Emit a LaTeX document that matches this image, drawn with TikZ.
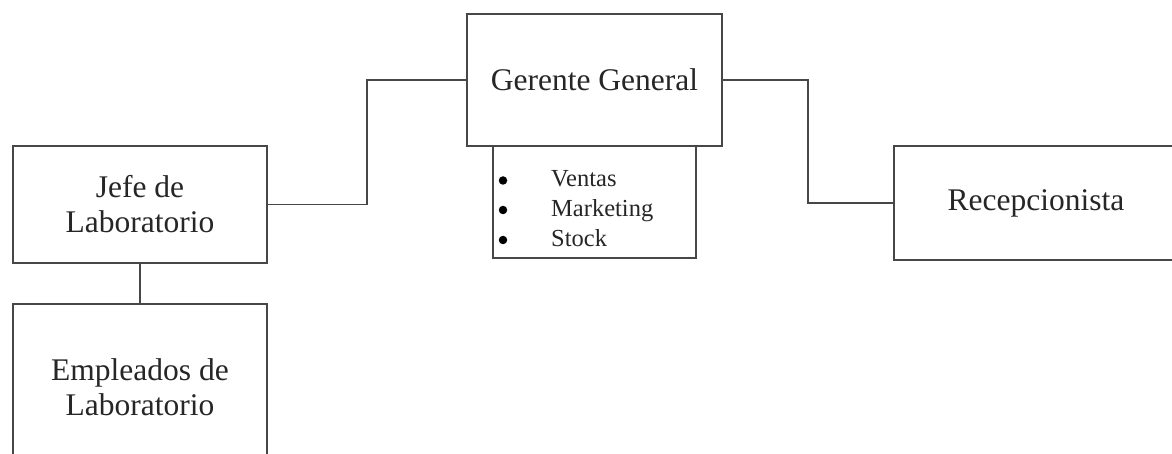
\documentclass[tikz,border=0pt]{standalone}
\usepackage{fontspec}
\setmainfont{Liberation Serif}
\usetikzlibrary{calc}
\begin{document}
\begin{tikzpicture}[x=1pt,y=-1pt,
  box/.style={draw=black!72,line width=1.5pt,rectangle,inner sep=0pt,align=center,
    font=\fontsize{31.5}{35}\selectfont,text=black!85},
  item/.style={anchor=base west,inner sep=0pt,font=\fontsize{24.5}{28}\selectfont,text=black!85},
  dot/.style={circle,fill=black,inner sep=0pt,minimum size=8.5pt},
  conn/.style={draw=black!72,line width=1.5pt}]
\useasboundingbox (0,0) rectangle (1172,454);
\clip (0,0) rectangle (1172,454);
\fill[white] (0,0) rectangle (1172,454);
\node[box,minimum width=255pt,minimum height=132pt] (G) at (594.5,80) {Gerente General};
\node[box,minimum width=203pt,minimum height=112pt] (S) at (594.5,202) {};
\node[dot] (b1) at (503,180.5) {};
\node[dot] (b2) at (503,210) {};
\node[dot] (b3) at (503,240) {};
\node[item] (t1) at (551,187) {Ventas};
\node[item] (t2) at (551,217) {Marketing};
\node[item] (t3) at (551,246.5) {Stock};
\node[box,minimum width=254pt,minimum height=117pt] (J) at (140,204.5) {Jefe de\\Laboratorio};
\node[box,minimum width=254pt,minimum height=166pt] (E) at (140,387) {Empleados de\\Laboratorio};
\node[box,minimum width=284pt,minimum height=114pt] (R) at (1036,203) {Recepcionista};
\draw[conn] (J.east) -| ($(J.east)!.5!(G.west)$) |- (G.west);
\draw[conn] (G.east) -| ($(G.east)!.5!(R.west)$) |- (R.west);
\draw[conn] (J.south) -- (E.north);
\end{tikzpicture}
\end{document}
